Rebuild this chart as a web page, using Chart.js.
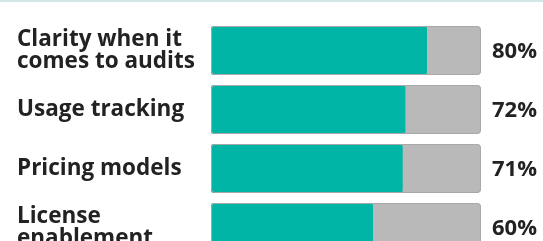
<!DOCTYPE html>
<html>
<head>
<meta charset="utf-8">
<script src="https://cdn.jsdelivr.net/npm/chart.js@4"></script>
<style>
  html, body { margin: 0; padding: 0; background: #fff; overflow: hidden; }
  #topline { position: absolute; left: 0; top: 0; width: 543px; height: 2px; background: #d3e7e7; z-index: 2; }
  #wrap { position: relative; width: 543px; height: 257px; }
</style>
</head>
<body>
<div id="topline"></div>
<div id="wrap"><canvas id="chart"></canvas></div>
<script>
// --- datos ---
const categories = [
  ['Clarity when it', 'comes to audits'],
  ['Usage tracking'],
  ['Pricing models'],
  ['License', 'enablement']
];
const values = [80, 72, 71, 60];
const trackValues = [100, 100, 100, 100];

const TEAL = '#00b5a6';
const TRACK = '#b9b9b9';
const OUTLINE = '#a9a9a9';
const TEXT = '#222222';

// etiquetas a la izquierda, alineadas a la izquierda
const leftLabels = {
  id: 'leftLabels',
  afterDraw(chart) {
    const ctx = chart.ctx;
    const y = chart.scales.y;
    ctx.save();
    ctx.fillStyle = TEXT;
    ctx.font = 'bold 22.5px "Open Sans"';
    ctx.textAlign = 'left';
    ctx.textBaseline = 'middle';
    const lh = 22;
    categories.forEach((lines, i) => {
      const cy = y.getPixelForTick(i);
      const start = cy - (lines.length - 1) * lh / 2;
      lines.forEach((t, k) => ctx.fillText(t, 17, start + k * lh));
    });
    ctx.restore();
  }
};

// porcentajes a la derecha
const pctLabels = {
  id: 'pctLabels',
  afterDatasetsDraw(chart) {
    const ctx = chart.ctx;
    const y = chart.scales.y;
    ctx.save();
    ctx.fillStyle = TEXT;
    ctx.font = 'bold 22px "Open Sans"';
    ctx.textAlign = 'left';
    ctx.textBaseline = 'middle';
    values.forEach((v, i) => {
      ctx.fillText(v + '%', chart.chartArea.right + 11, y.getPixelForTick(i) + 1);
    });
    ctx.restore();
  }
};

new Chart(document.getElementById('chart'), {
  type: 'bar',
  data: {
    labels: categories,
    datasets: [
      { // contorno encima de todo
        data: trackValues,
        backgroundColor: 'rgba(0,0,0,0)',
        borderColor: OUTLINE,
        borderWidth: 1,
        borderSkipped: false,
        borderRadius: 4,
        order: 1
      },
      {
        data: values,
        backgroundColor: TEAL,
        borderWidth: 0,
        borderSkipped: false,
        borderRadius: 3,
        order: 2
      },
      {
        data: trackValues,
        backgroundColor: TRACK,
        borderWidth: 0,
        borderSkipped: false,
        borderRadius: 4,
        order: 3
      }
    ]
  },
  options: {
    indexAxis: 'y',
    responsive: true,
    maintainAspectRatio: false,
    animation: false,
    events: [],
    layout: { padding: { top: 21, right: 62, bottom: 0, left: 0 } },
    datasets: { bar: { grouped: false, categoryPercentage: 0.83, barPercentage: 1 } },
    plugins: { legend: { display: false }, tooltip: { enabled: false } },
    scales: {
      x: { display: false, min: 0, max: 100 },
      y: {
        grid: { display: false, drawTicks: false },
        border: { display: false },
        ticks: { display: false },
        afterFit(scale) { scale.width = 211; }
      }
    }
  },
  plugins: [leftLabels, pctLabels]
});
</script>
</body>
</html>
